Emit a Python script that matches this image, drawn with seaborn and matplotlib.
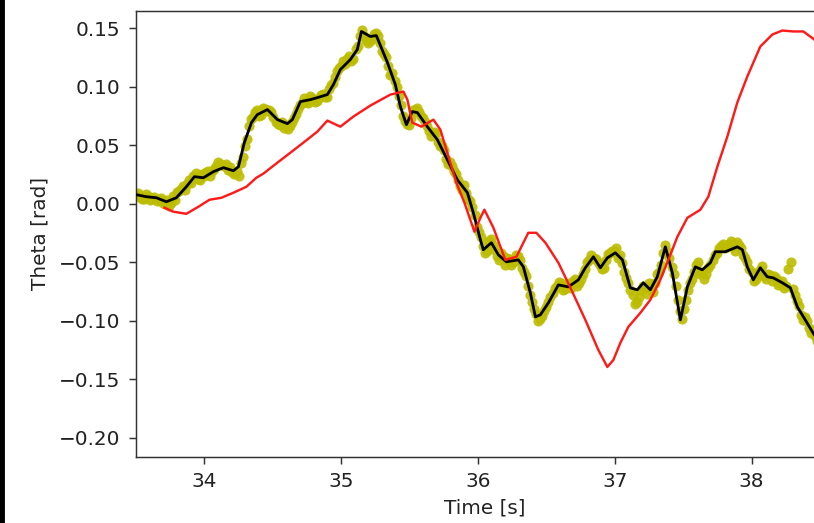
import numpy as np
import pandas as pd
import matplotlib
matplotlib.use("Agg")
import matplotlib.pyplot as plt
from matplotlib.patches import Rectangle
import seaborn as sns

# Raw measured angle samples, two interleaved channels every 0.03 s
sample_start = 33.50
sample_step = 0.03
theta_raw_a = [
    0.008, 0.006, 0.004, 0.007, 0.004, 0.002, 0.005, 0.000, -0.002, 0.007,
    0.010, 0.013, 0.012, 0.020, 0.024, 0.021, 0.025, 0.027, 0.024, 0.030,
    0.036, 0.033, 0.034, 0.031, 0.025, 0.024, 0.040, 0.055, 0.072, 0.078,
    0.075, 0.082, 0.079, 0.078, 0.070, 0.067, 0.065, 0.064, 0.070, 0.077,
    0.084, 0.090, 0.086, 0.090, 0.088, 0.093, 0.091, 0.098, 0.103, 0.113,
    0.118, 0.119, 0.126, 0.124, 0.135, 0.148, 0.140, 0.139, 0.145, 0.143,
    0.130, 0.125, 0.110, 0.105, 0.092, 0.075, 0.068, 0.073, 0.080, 0.078,
    0.073, 0.066, 0.058, 0.060, 0.049, 0.046, 0.034, 0.032, 0.025, 0.015,
    0.016, 0.004, -0.003, -0.020, -0.028, -0.042, -0.032, -0.039, -0.045, -0.042,
    -0.052, -0.047, -0.050, -0.045, -0.055, -0.062, -0.078, -0.090, -0.100, -0.096,
    -0.088, -0.080, -0.072, -0.067, -0.074, -0.069, -0.072, -0.064, -0.068, -0.060,
    -0.050, -0.044, -0.047, -0.052, -0.055, -0.043, -0.040, -0.038, -0.044, -0.058,
    -0.068, -0.078, -0.084, -0.074, -0.072, -0.068, -0.075, -0.060, -0.052, -0.035,
    -0.046, -0.060, -0.082, -0.098, -0.082, -0.068, -0.058, -0.050, -0.058, -0.060,
    -0.052, -0.044, -0.038, -0.034, -0.036, -0.032, -0.040, -0.035, -0.044, -0.050,
    -0.058, -0.064, -0.057, -0.062, -0.060, -0.066, -0.063, -0.068, -0.072, -0.056,
    -0.073, -0.083, -0.095, -0.097, -0.106, -0.108, -0.117, -0.121, -0.125,
]
theta_raw_b = [
    0.009, 0.004, 0.008, 0.003, 0.006, 0.003, 0.001, 0.003, 0.001, 0.003,
    0.011, 0.015, 0.017, 0.018, 0.026, 0.020, 0.024, 0.028, 0.028, 0.032,
    0.034, 0.032, 0.029, 0.027, 0.028, 0.035, 0.049, 0.066, 0.074, 0.080,
    0.076, 0.081, 0.080, 0.074, 0.068, 0.070, 0.067, 0.066, 0.073, 0.081,
    0.086, 0.087, 0.092, 0.087, 0.090, 0.094, 0.091, 0.101, 0.108, 0.116,
    0.122, 0.124, 0.122, 0.132, 0.143, 0.143, 0.137, 0.141, 0.146, 0.137,
    0.128, 0.118, 0.112, 0.100, 0.084, 0.071, 0.067, 0.080, 0.082, 0.075,
    0.070, 0.062, 0.061, 0.053, 0.049, 0.038, 0.036, 0.028, 0.020, 0.012,
    0.009, 0.002, -0.010, -0.024, -0.036, -0.040, -0.030, -0.036, -0.048, -0.045,
    -0.046, -0.052, -0.044, -0.048, -0.058, -0.070, -0.084, -0.094, -0.098, -0.092,
    -0.084, -0.076, -0.070, -0.068, -0.073, -0.068, -0.066, -0.070, -0.064, -0.056,
    -0.048, -0.046, -0.050, -0.056, -0.048, -0.042, -0.040, -0.046, -0.051, -0.063,
    -0.074, -0.086, -0.080, -0.070, -0.077, -0.072, -0.068, -0.058, -0.042, -0.040,
    -0.054, -0.070, -0.092, -0.090, -0.074, -0.064, -0.052, -0.060, -0.064, -0.055,
    -0.048, -0.042, -0.036, -0.038, -0.034, -0.036, -0.033, -0.038, -0.046, -0.056,
    -0.066, -0.060, -0.053, -0.064, -0.061, -0.062, -0.069, -0.066, -0.070, -0.050,
    -0.078, -0.087, -0.099, -0.100, -0.110, -0.113, -0.120, -0.122,
]
time_raw_a = sample_start + sample_step * np.arange(len(theta_raw_a))
time_raw_b = sample_start + sample_step / 2 + sample_step * np.arange(len(theta_raw_b))

# Filtered angle estimate
time_filt = [
    33.503, 33.576, 33.649, 33.722, 33.795, 33.868, 33.927, 33.993, 34.066, 34.139,
    34.212, 34.249, 34.292, 34.344, 34.387, 34.461, 34.534, 34.607, 34.643, 34.702,
    34.775, 34.826, 34.899, 34.943, 34.994, 35.067, 35.118, 35.148, 35.213, 35.257,
    35.338, 35.396, 35.433, 35.477, 35.520, 35.557, 35.630, 35.703, 35.776, 35.849,
    35.923, 35.966, 36.018, 36.039, 36.098, 36.149, 36.208, 36.295, 36.332, 36.383,
    36.420, 36.456, 36.515, 36.588, 36.661, 36.734, 36.785, 36.844, 36.895, 36.946,
    37.004, 37.056, 37.114, 37.165, 37.209, 37.260, 37.311, 37.370, 37.421, 37.480,
    37.531, 37.589, 37.640, 37.699, 37.735, 37.808, 37.896, 37.933, 37.969, 38.013,
    38.064, 38.115, 38.159, 38.225, 38.284, 38.335, 38.393, 38.459, 38.550,
]
theta_filt = [
    0.0077, 0.0060, 0.0051, 0.0017, 0.0051, 0.0145, 0.0231, 0.0222, 0.0274, 0.0308,
    0.0282, 0.0316, 0.0522, 0.0693, 0.0761, 0.0804, 0.0718, 0.0684, 0.0718, 0.0872,
    0.0889, 0.0906, 0.0932, 0.1017, 0.1146, 0.1231, 0.1317, 0.1471, 0.1428, 0.1436,
    0.1206, 0.1017, 0.0829, 0.0675, 0.0787, 0.0778, 0.0658, 0.0547, 0.0376, 0.0205,
    0.0094, -0.0077, -0.0308, -0.0393, -0.0333, -0.0436, -0.0496, -0.0479, -0.0539, -0.0761,
    -0.0966, -0.0949, -0.0846, -0.0693, -0.0710, -0.0650, -0.0547, -0.0453, -0.0547, -0.0462,
    -0.0419, -0.0479, -0.0718, -0.0735, -0.0675, -0.0735, -0.0624, -0.0368, -0.0590, -0.0992,
    -0.0710, -0.0539, -0.0564, -0.0504, -0.0410, -0.0410, -0.0368, -0.0393, -0.0539, -0.0650,
    -0.0547, -0.0624, -0.0633, -0.0675, -0.0718, -0.0881, -0.0992, -0.1120, -0.1250,
]

# Model prediction
time_model = [
    33.708, 33.773, 33.868, 33.956, 34.037, 34.124, 34.212, 34.307, 34.380, 34.431,
    34.534, 34.629, 34.724, 34.826, 34.899, 34.994, 35.089, 35.213, 35.360, 35.455,
    35.484, 35.520, 35.586, 35.674, 35.725, 35.791, 35.842, 35.901, 35.974, 36.018,
    36.047, 36.113, 36.200, 36.281, 36.368, 36.427, 36.493, 36.588, 36.683, 36.785,
    36.880, 36.946, 36.990, 37.041, 37.099, 37.187, 37.260, 37.333, 37.392, 37.458,
    37.531, 37.626, 37.684, 37.750, 37.823, 37.896, 37.969, 38.064, 38.152, 38.225,
    38.306, 38.379, 38.459, 38.550,
]
theta_model = [
    -0.0034, -0.0068, -0.0086, -0.0026, 0.0034, 0.0051, 0.0094, 0.0145, 0.0222, 0.0257,
    0.0351, 0.0436, 0.0522, 0.0616, 0.0710, 0.0658, 0.0744, 0.0838, 0.0932, 0.0958,
    0.0889, 0.0693, 0.0658, 0.0718, 0.0633, 0.0376, 0.0180, 0.0009, -0.0239, -0.0120,
    -0.0051, -0.0205, -0.0479, -0.0453, -0.0248, -0.0248, -0.0333, -0.0504, -0.0735, -0.0992,
    -0.1248, -0.1394, -0.1334, -0.1188, -0.1052, -0.0932, -0.0821, -0.0650, -0.0479, -0.0282,
    -0.0120, -0.0051, 0.0060, 0.0316, 0.0573, 0.0864, 0.1086, 0.1342, 0.1445, 0.1479,
    0.1471, 0.1471, 0.1402, 0.1250,
]

yticks = [-0.20, -0.15, -0.10, -0.05, 0.00, 0.05, 0.10, 0.15]
xticks = [34, 35, 36, 37, 38, 39]

raw = pd.DataFrame({
    "t": np.concatenate([time_raw_a, time_raw_b]),
    "theta": theta_raw_a + theta_raw_b,
})
filt = pd.DataFrame({"t": time_filt, "theta": theta_filt})
model = pd.DataFrame({"t": time_model, "theta": theta_model})

DPI = 133.33
fig = plt.figure(figsize=(814 / DPI, 523 / DPI), dpi=DPI)
ax = fig.add_axes([136 / 814, 66.3 / 523, 0.857, 446.2 / 523])

sns.scatterplot(data=raw, x="t", y="theta", ax=ax, color="#bcbc00",
                s=30, linewidth=0, alpha=0.9, zorder=2)
sns.lineplot(data=filt, x="t", y="theta", ax=ax, color="black",
             linewidth=1.5, zorder=3)
sns.lineplot(data=model, x="t", y="theta", ax=ax, color="#ff1a1a",
             linewidth=1.3, zorder=4)

ax.set_xticks(xticks)
ax.set_yticks(yticks)
ax.set_yticklabels([f"{v:.2f}".replace("-", "\u2212") for v in yticks])
ax.set_xlim(33.5, 38.6)
ax.set_ylim(-0.216, 0.165)
ax.tick_params(labelsize=10.8, colors="#333333", labelcolor="#222222",
               length=4, pad=4.5)
ax.set_xlabel("Time [s]", fontsize=10.8, color="#222222", labelpad=4)
ax.set_ylabel("Theta [rad]", fontsize=10.8, color="#222222", labelpad=5)
for sp in ax.spines.values():
    sp.set_color("#333333")

# dark strip along the left edge of the screen capture
fig.patches.append(Rectangle((0, 0), 4 / 814, 1, transform=fig.transFigure,
                             color="black", zorder=10))

fig.savefig("out.png", dpi=DPI)
